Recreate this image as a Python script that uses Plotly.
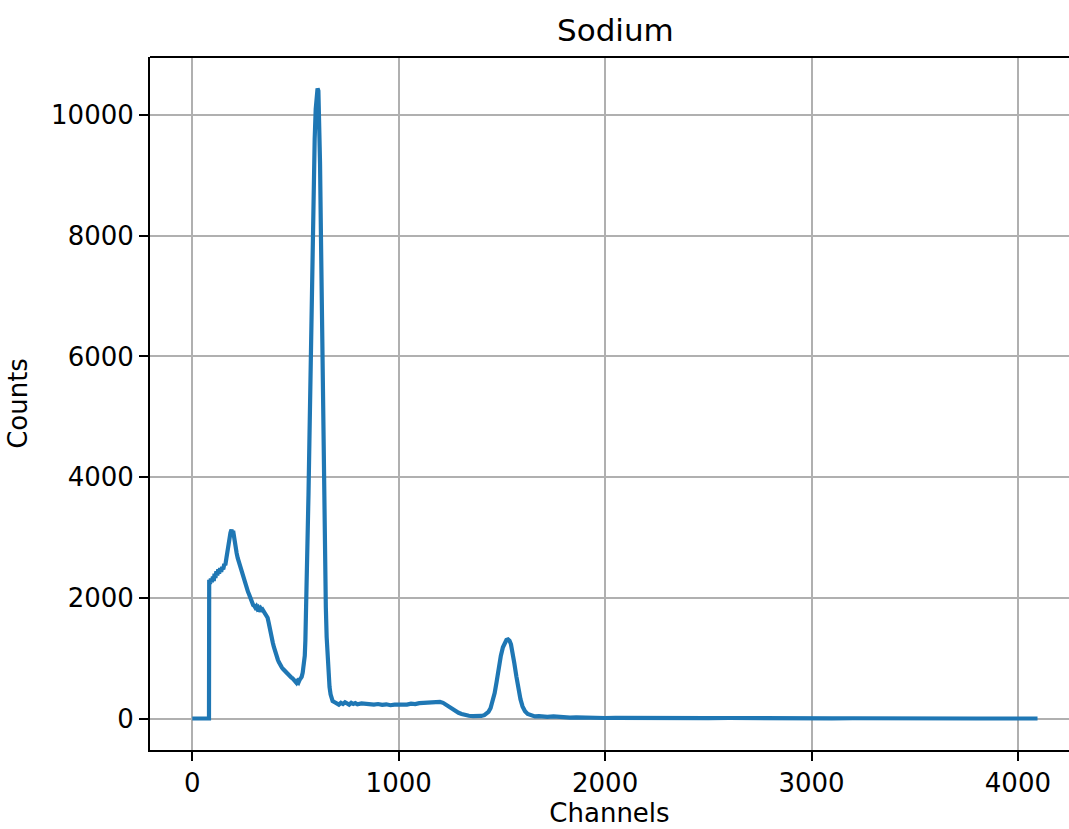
import plotly.graph_objects as go

# Na-22 gamma spectrum: counts per channel (sampled channels)
channels = [
    0, 81, 82, 86, 90, 95, 100, 104, 108, 112, 117, 121, 126, 130, 135, 140, 145, 150,
    155, 160, 165, 170, 175, 180, 185, 190, 194, 198, 202, 206, 210, 215, 220, 225,
    230, 235, 240, 245, 250, 255, 260, 265, 270, 275, 280, 285, 290, 295, 300, 305,
    310, 315, 320, 325, 330, 335, 340, 345, 350, 355, 360, 365, 370, 375, 380, 385,
    390, 395, 400, 405, 410, 415, 420, 425, 430, 435, 440, 445, 450, 455, 460, 465,
    470, 475, 480, 485, 490, 495, 500, 505, 510, 515, 520, 525, 530, 535, 540, 545,
    548, 553, 558, 563, 568, 573, 578, 583, 588, 593, 598, 603, 607, 611, 615, 619,
    623, 627, 631, 635, 639, 643, 647, 651, 655, 660, 665, 670, 675, 680, 690, 700,
    710, 720, 730, 740, 750, 760, 770, 780, 790, 800, 820, 840, 860, 880, 900, 920,
    940, 960, 980, 1000, 1020, 1040, 1060, 1080, 1100, 1120, 1140, 1160, 1180, 1200,
    1215, 1230, 1245, 1260, 1275, 1290, 1305, 1320, 1340, 1360, 1380, 1400, 1415,
    1425, 1435, 1445, 1455, 1465, 1475, 1485, 1495, 1505, 1515, 1522, 1530, 1537,
    1544, 1552, 1560, 1570, 1580, 1590, 1600, 1612, 1625, 1640, 1660, 1680, 1700,
    1720, 1750, 1780, 1800, 1830, 1860, 1900, 1950, 2000, 2050, 2100, 2150, 2200,
    2250, 2300, 2350, 2400, 2500, 2600, 2700, 2800, 2900, 3000, 3100, 3200, 3300,
    3500, 3800, 4095,
]
counts = [
    0, 0, 2300, 2230, 2320, 2260, 2350, 2280, 2400, 2330, 2440, 2370, 2470, 2400, 2490,
    2430, 2510, 2470, 2560, 2540, 2650, 2780, 2900, 3010, 3080, 3130, 3070, 3110, 3000,
    2930, 2860, 2740, 2660, 2600, 2530, 2470, 2430, 2370, 2320, 2260, 2210, 2160, 2100,
    2060, 2000, 1970, 1930, 1880, 1870, 1840, 1860, 1820, 1840, 1810, 1830, 1800, 1810,
    1780, 1770, 1740, 1720, 1670, 1590, 1480, 1400, 1330, 1260, 1190, 1120, 1060, 1010,
    970, 930, 890, 860, 840, 820, 800, 780, 760, 740, 720, 700, 690, 680, 670, 650, 630,
    610, 590, 620, 600, 640, 660, 690, 760, 860, 1040, 1300, 1900, 2700, 3700, 4700,
    5800, 6900, 8000, 8900, 9600, 10100, 10380, 10440, 10400, 10000, 9200, 8100, 6800,
    5500, 4300, 3300, 2500, 1850, 1350, 1000, 700, 520, 400, 330, 290, 270, 250, 230,
    260, 240, 270, 250, 230, 260, 240, 255, 235, 250, 240, 245, 230, 240, 225, 235, 220,
    230, 225, 235, 230, 245, 240, 255, 260, 275, 270, 285, 275, 260, 225, 185, 150, 120,
    95, 75, 60, 45, 40, 38, 42, 55, 75, 110, 170, 270, 420, 620, 850, 1040, 1180, 1270,
    1300, 1310, 1290, 1230, 1100, 920, 700, 480, 320, 200, 120, 75, 50, 35, 40, 30, 28,
    35, 22, 25, 15, 20, 12, 15, 8, 12, 10, 22, 14, 8, 10, 6, 9, 5, 8, 4, 6, 3, 5, 3, 4,
    1, 1, 0, 0,
]

x_ticks = [0, 1000, 2000, 3000, 4000]
y_ticks = [0, 2000, 4000, 6000, 8000, 10000]

fig = go.Figure()
fig.add_trace(go.Scatter(
    x=channels, y=counts, mode="lines",
    line=dict(color="#1f77b4", width=4.2),
    hoverinfo="skip",
))

grid = "#b0b0b0"
axis_common = dict(
    showgrid=True, gridcolor=grid, gridwidth=2,
    showline=True, linecolor="black", linewidth=2,
    ticks="outside", ticklen=9, tickwidth=2, tickcolor="black",
    zeroline=False, tickfont=dict(size=26, color="black"),
    tickformat="d", automargin=False,
)

fig.update_layout(
    width=1069, height=829,
    margin=dict(l=150, r=0, t=57, b=79, autoexpand=False),
    plot_bgcolor="white", paper_bgcolor="white",
    showlegend=False,
    font=dict(family="DejaVu Sans", size=26, color="black"),
    xaxis=dict(range=[-204.8, 4247.5], tickvals=x_ticks,
               title=dict(text="Channels", font=dict(size=26), standoff=4),
               **axis_common),
    yaxis=dict(range=[-522, 10962], tickvals=y_ticks,
               title=dict(text="Counts", font=dict(size=26), standoff=16),
               **axis_common),
    shapes=[dict(type="line", xref="paper", yref="paper", x0=0, x1=1, y0=1, y1=1,
                 line=dict(color="black", width=2))],
    annotations=[dict(text="Sodium", xref="paper", yref="paper",
                      x=(615 - 150) / 919, y=1, xanchor="center", yanchor="bottom",
                      yshift=7, showarrow=False, font=dict(size=31, color="black"))],
)

fig.write_html("out.html")
